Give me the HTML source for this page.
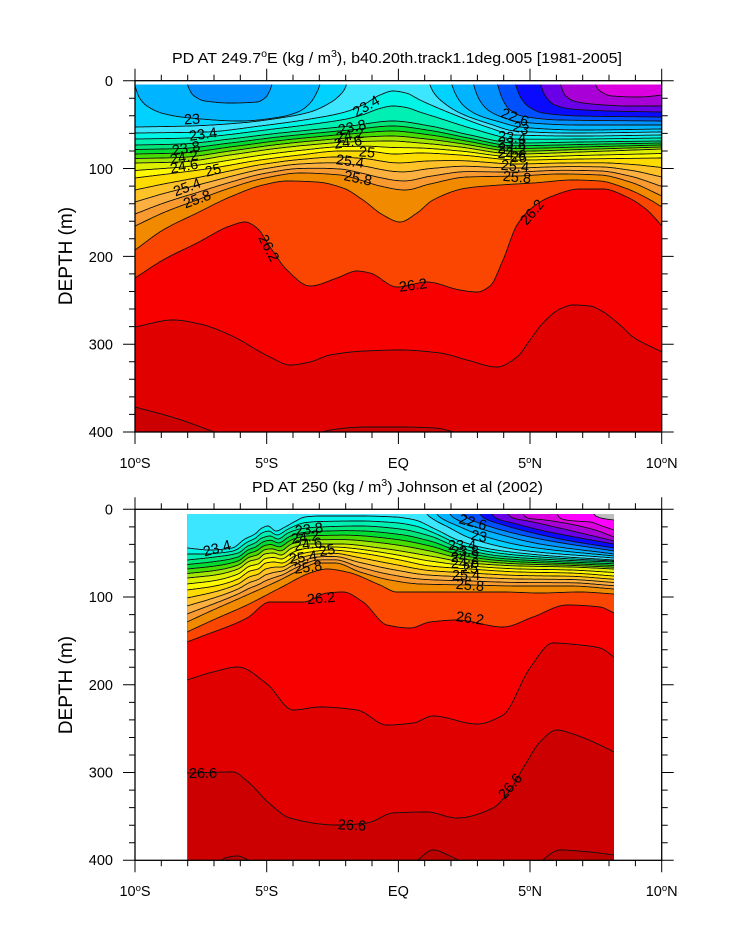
<!DOCTYPE html>
<html><head><meta charset="utf-8">
<style>
html,body{margin:0;padding:0;background:#fff;}
svg{display:block;}
text{font-family:"Liberation Sans",Arial,sans-serif;fill:#000;}
.cl{font-size:14.5px;text-anchor:middle;}
.tk{font-size:14.5px;}
</style></head>
<body>
<svg id="s" width="733" height="945" viewBox="0 0 733 945" xmlns="http://www.w3.org/2000/svg">
<defs>
<clipPath id="c1"><rect x="135" y="84.5" width="526.7" height="347.5"/></clipPath>
<clipPath id="c2"><rect x="187.3" y="514" width="426.7" height="346.3"/></clipPath>
</defs>
<g id="p1" clip-path="url(#c1)"></g>
<g id="p2" clip-path="url(#c2)"></g>

<!-- contour labels top -->
<g class="cl">
<text transform="translate(192,119) rotate(-3)" y="5">23</text>
<text transform="translate(203,134) rotate(-8)" y="5">23.4</text>
<text transform="translate(186,148) rotate(-10)" y="5">23.8</text>
<text transform="translate(184,157) rotate(-10)" y="5">24.2</text>
<text transform="translate(184,166) rotate(-10)" y="5">24.6</text>
<text transform="translate(213,170) rotate(-15)" y="5">25</text>
<text transform="translate(187,187) rotate(-20)" y="5">25.4</text>
<text transform="translate(197,199) rotate(-20)" y="5">25.8</text>
<text transform="translate(366,106) rotate(-30)" y="5">23.4</text>
<text transform="translate(352,127) rotate(-12)" y="5">23.8</text>
<text transform="translate(350,135) rotate(-10)" y="5">24.2</text>
<text transform="translate(348,142) rotate(-8)" y="5">24.6</text>
<text transform="translate(367,152) rotate(5)" y="5">25</text>
<text transform="translate(350,161) rotate(8)" y="5">25.4</text>
<text transform="translate(358,178) rotate(12)" y="5">25.8</text>
<text transform="translate(515,117) rotate(20)" y="5">22.6</text>
<text transform="translate(521,128) rotate(15)" y="5">23</text>
<text transform="translate(512,137) rotate(5)" y="5">23.4</text>
<text transform="translate(512,143) rotate(5)" y="5">23.8</text>
<text transform="translate(512,149) rotate(5)" y="5">24.2</text>
<text transform="translate(512,154) rotate(5)" y="5">24.6</text>
<text transform="translate(519,157) rotate(5)" y="5">25</text>
<text transform="translate(515,166) rotate(5)" y="5">25.4</text>
<text transform="translate(517,177) rotate(5)" y="5">25.8</text>
<text transform="translate(269,248) rotate(62)" y="5">26.2</text>
<text transform="translate(413,285) rotate(-8)" y="5">26.2</text>
<text transform="translate(532,212) rotate(-50)" y="5">26.2</text>
</g>
<!-- contour labels bottom -->
<g class="cl">
<text transform="translate(217,548) rotate(-15)" y="5">23.4</text>
<text transform="translate(309,529) rotate(-8)" y="5">23.8</text>
<text transform="translate(305,537) rotate(-8)" y="5">24.2</text>
<text transform="translate(308,544) rotate(-8)" y="5">24.6</text>
<text transform="translate(327,550) rotate(-10)" y="5">25</text>
<text transform="translate(303,557) rotate(-8)" y="5">25.4</text>
<text transform="translate(308,567) rotate(-8)" y="5">25.8</text>
<text transform="translate(321,598) rotate(-5)" y="5">26.2</text>
<text transform="translate(203,773)" y="5">26.6</text>
<text transform="translate(352,825) rotate(3)" y="5">26.6</text>
<text transform="translate(473,522) rotate(15)" y="5">22.6</text>
<text transform="translate(479,536) rotate(10)" y="5">23</text>
<text transform="translate(462,545)" y="5">23.4</text>
<text transform="translate(465,551)" y="5">23.8</text>
<text transform="translate(465,557)" y="5">24.2</text>
<text transform="translate(465,563)" y="5">24.6</text>
<text transform="translate(470,568)" y="5">25</text>
<text transform="translate(466,575)" y="5">25.4</text>
<text transform="translate(470,585) rotate(5)" y="5">25.8</text>
<text transform="translate(470,618) rotate(8)" y="5">26.2</text>
<text transform="translate(510,786) rotate(-50)" y="5">26.6</text>
</g>

<!-- frames & ticks -->
<rect x="135" y="80.7" width="526.7" height="351.3" fill="none" stroke="#000" stroke-width="1.3"/>
<rect x="135" y="509.3" width="526.7" height="351" fill="none" stroke="#000" stroke-width="1.3"/>
<path id="tk" d="" stroke="#000" stroke-width="1" fill="none"/>

<!-- titles -->
<text x="172" y="63" font-size="15" textLength="450" lengthAdjust="spacingAndGlyphs">PD AT 249.7<tspan dy="-6" font-size="10">o</tspan><tspan dy="6">E (kg / m</tspan><tspan dy="-6" font-size="10">3</tspan><tspan dy="6">), b40.20th.track1.1deg.005 [1981-2005]</tspan></text>
<text x="252" y="492" font-size="15" textLength="291" lengthAdjust="spacingAndGlyphs">PD AT 250 (kg / m<tspan dy="-6" font-size="10">3</tspan><tspan dy="6">) Johnson et al (2002)</tspan></text>

<!-- y axis titles -->
<text transform="translate(72,256) rotate(-90)" font-size="19" text-anchor="middle">DEPTH (m)</text>
<text transform="translate(72,685) rotate(-90)" font-size="19" text-anchor="middle">DEPTH (m)</text>

<!-- y tick labels -->
<g class="tk" text-anchor="end">
<text x="113" y="86">0</text>
<text x="113" y="174">100</text>
<text x="113" y="262">200</text>
<text x="113" y="349.5">300</text>
<text x="113" y="437">400</text>
<text x="113" y="514.5">0</text>
<text x="113" y="602">100</text>
<text x="113" y="690">200</text>
<text x="113" y="777.5">300</text>
<text x="113" y="865">400</text>
</g>
<!-- x tick labels -->
<g class="tk" text-anchor="middle">
<text x="135" y="468">10<tspan dy="-5" font-size="9.5">o</tspan><tspan dy="5">S</tspan></text>
<text x="266.7" y="468">5<tspan dy="-5" font-size="9.5">o</tspan><tspan dy="5">S</tspan></text>
<text x="398.4" y="468">EQ</text>
<text x="530" y="468">5<tspan dy="-5" font-size="9.5">o</tspan><tspan dy="5">N</tspan></text>
<text x="661.7" y="468">10<tspan dy="-5" font-size="9.5">o</tspan><tspan dy="5">N</tspan></text>
<text x="135" y="896">10<tspan dy="-5" font-size="9.5">o</tspan><tspan dy="5">S</tspan></text>
<text x="266.7" y="896">5<tspan dy="-5" font-size="9.5">o</tspan><tspan dy="5">S</tspan></text>
<text x="398.4" y="896">EQ</text>
<text x="530" y="896">5<tspan dy="-5" font-size="9.5">o</tspan><tspan dy="5">N</tspan></text>
<text x="661.7" y="896">10<tspan dy="-5" font-size="9.5">o</tspan><tspan dy="5">N</tspan></text>
</g>
</svg>
<script>
var NS="http://www.w3.org/2000/svg";
var COL=["#bebebe","#ff00ff","#dc00e0","#aa00d8","#6a00e8","#0a0aff","#0050ff","#0091ff","#00b4ff","#00d2ff","#3ce6ff","#00f5e6","#00f0b4","#00e678","#00dc32","#46dc00","#a0e600","#dcf000","#fffa00","#ffdc00","#ffc328","#fcb040","#f89a30","#f28a00","#fa4600","#f80000","#e00000","#cc0000","#bb0000"];
function mono(p){
  var n=p.length,xs=[],ys=[],d=[],m=[],i;
  for(i=0;i<n;i++){xs.push(p[i][0]);ys.push(p[i][1]);}
  for(i=0;i<n-1;i++)d.push((ys[i+1]-ys[i])/(xs[i+1]-xs[i]));
  m[0]=d[0];m[n-1]=d[n-2];
  for(i=1;i<n-1;i++){
    if(d[i-1]*d[i]<=0)m[i]=0;
    else{var h0=xs[i]-xs[i-1],h1=xs[i+1]-xs[i],w1=2*h1+h0,w2=h1+2*h0;m[i]=(w1+w2)/(w1/d[i-1]+w2/d[i]);}
  }
  return function(x){
    if(x<=xs[0])return ys[0];if(x>=xs[n-1])return ys[n-1];
    var j=0;while(x>xs[j+1])j++;
    var h=xs[j+1]-xs[j],t=(x-xs[j])/h,t2=t*t,t3=t2*t;
    return (2*t3-3*t2+1)*ys[j]+(t3-2*t2+t)*h*m[j]+(-2*t3+3*t2)*ys[j+1]+(t3-t2)*h*m[j+1];
  };
}
function panel(gid,x0,x1,yT,yB,K){
  var g=document.getElementById(gid),N=28,f=[],k,i,x;
  for(k=0;k<N;k++)if(K[k])f[k]=mono(K[k]);
  var xs=[];for(x=x0;x<x1;x+=1)xs.push(x);xs.push(x1);
  var Y=[];for(k=0;k<N;k++)Y.push([]);
  for(i=0;i<xs.length;i++){
    var v=[];
    for(k=0;k<N;k++)if(f[k])v[k]=f[k](xs[i]);
    for(k=0;k<N;k++)if(!f[k]){var a=k-1;while(a>=0&&!f[a])a--;var b=k+1;while(b<N&&!f[b])b++;v[k]=v[a]+(v[b]-v[a])*(k-a)/(b-a);}
    for(k=1;k<N;k++)if(v[k]<v[k-1])v[k]=v[k-1];
    for(k=0;k<N;k++)Y[k].push(Math.max(yT-20,Math.min(yB+20,v[k])));
  }
  var r=document.createElementNS(NS,"rect");
  r.setAttribute("x",x0-2);r.setAttribute("y",yT-2);r.setAttribute("width",x1-x0+4);r.setAttribute("height",yB-yT+4);r.setAttribute("fill",COL[N]);g.appendChild(r);
  var L=xs.length;
  for(k=N-1;k>=0;k--){
    var d="M"+(x0-2)+","+(yT-20)+"L"+(x0-2)+","+Y[k][0].toFixed(1);
    for(i=0;i<L;i++)d+="L"+xs[i].toFixed(1)+","+Y[k][i].toFixed(1);
    d+="L"+(x1+2)+","+Y[k][L-1].toFixed(1)+"L"+(x1+2)+","+(yT-20)+"Z";
    var p=document.createElementNS(NS,"path");p.setAttribute("d",d);p.setAttribute("fill",COL[k]);g.appendChild(p);
  }
  for(k=0;k<N;k++){
    var d2="M"+(x0-2)+","+Y[k][0].toFixed(1);
    for(i=0;i<L;i++)d2+="L"+xs[i].toFixed(1)+","+Y[k][i].toFixed(1);
    d2+="L"+(x1+2)+","+Y[k][L-1].toFixed(1);
    var q=document.createElementNS(NS,"path");q.setAttribute("d",d2);q.setAttribute("fill","none");q.setAttribute("stroke","#111");q.setAttribute("stroke-width","0.9");g.appendChild(q);
  }
}
var A=60;
var KT={
0:[[135,A],[662,A]],
1:[[135,A],[662,A]],
2:[[135,A],[588,A],[592,75],[595,84],[600,91],[612,96],[640,97],[662,95]],
3:[[135,A],[555,A],[558,75],[561,86],[565,95],[574,101],[592,104],[630,106],[662,106]],
4:[[135,A],[535,A],[538,75],[541,86],[546,97],[555,105],[572,109],[610,111],[662,112]],
5:[[135,A],[510,A],[513,75],[516,86],[521,98],[529,107],[543,113],[580,116],[662,117]],
6:[[135,A],[492,A],[495,75],[498,86],[502,98],[509,109],[522,116],[560,120],[662,121]],
7:[[135,A],[181,A],[185,75],[188,86],[193,95],[205,101],[230,103],[257,102],[266,97],[270,90],[272,84],[274,A],[468,A],[471,75],[474,86],[479,99],[488,110],[502,117],[520,122],[580,125],[662,125]],
8:[[135,86],[139,97],[147,106],[165,114],[190,118],[240,121],[280,117],[300,111],[311,102],[317,92],[320,84],[323,A],[446,A],[449,75],[452,85],[456,95],[464,106],[478,115],[500,122],[520,127],[580,130],[662,129]],
9:[[135,127],[190,126],[240,123],[280,118],[310,112],[328,104],[340,95],[346,86],[350,A],[424,A],[427,75],[430,85],[434,93],[444,103],[460,113],[490,124],[515,131],[570,133],[662,132]],
10:[[135,133],[205,132],[260,126],[310,119],[345,112],[363,105],[380,95],[393,91],[406,93],[420,100],[450,113],[490,128],[515,135],[580,136],[662,135]],
12:[[135,145],[181,144],[230,139],[280,133],[320,129],[350,126],[393,121],[430,126],[470,135],[515,143],[580,142],[662,141]],
16:[[135,163],[180,162],[230,155],[280,148],[320,144],[347,142],[390,141],[420,143],[460,147],[515,154],[580,152],[662,149]],
18:[[135,178],[213,168],[260,160],[300,155],[340,151],[365,151],[395,154],[420,153],[460,155],[520,160],[580,159],[662,158]],
22:[[135,226],[165,212],[197,200],[230,188],[265,178],[300,173],[340,175],[360,180],[380,186],[405,190],[430,184],[467,177],[517,176],[560,174],[600,175],[630,182],[662,196]],
23:[[135,250],[163,230],[197,213],[230,197],[263,185],[287,181],[317,182],[343,188],[363,200],[383,215],[400,222],[417,213],[433,200],[467,188],[500,185],[533,183],[573,180],[600,181],[625,188],[645,197],[662,207]],
24:[[135,278],[163,260],[197,243],[230,226],[245,222],[257,228],[270,247],[287,270],[310,286],[337,278],[357,271],[370,273],[397,287],[427,282],[460,290],[477,292],[490,286],[503,260],[517,225],[533,207],[550,197],[580,189],[603,189],[627,197],[647,210],[662,226]],
25:[[135,327],[173,320],[200,324],[230,335],[270,357],[290,365],[310,362],[330,355],[365,351],[400,350],[440,353],[467,360],[497,367],[517,357],[530,340],[543,323],[560,309],[573,305],[590,306],[600,310],[620,325],[633,337],[662,352]],
26:[[135,407],[175,418],[217,433],[250,445],[300,442],[330,430],[365,427],[400,427],[435,428],[460,434],[490,445],[662,445]],
27:[[135,460],[662,460]]
};
var B=495,Z=875;
var KB={
0:[[187,B],[590,B],[592,505],[594,514],[598,517],[606,519],[614,520]],
1:[[187,B],[553,B],[555,505],[557,514],[562,519],[575,521],[590,522],[602,526],[614,530]],
2:[[187,B],[519,B],[521,505],[523,514],[528,518],[545,520],[570,524],[595,530],[614,537]],
3:[[187,B],[504,B],[506,505],[508,514],[513,518],[528,521],[555,527],[585,534],[614,541]],
4:[[187,B],[488,B],[490,505],[492,514],[498,519],[513,523],[540,530],[575,537],[614,544]],
5:[[187,B],[476,B],[478,505],[480,514],[486,519],[500,524],[525,531],[565,540],[614,548]],
6:[[187,B],[459,B],[461,505],[463,514],[469,519],[482,524],[505,531],[545,540],[614,551]],
7:[[187,B],[446,B],[448,505],[450,514],[456,519],[470,525],[495,533],[540,544],[614,554]],
8:[[187,B],[433,B],[435,505],[437,514],[443,519],[458,526],[480,535],[530,547],[614,556]],
9:[[187,B],[421,B],[424,505],[427,514],[433,519],[448,527],[470,538],[520,550],[614,558]],
10:[[187,548],[210,550],[232,548],[245,539],[255,534],[262,528],[268,526],[276,531],[285,527],[294,522],[305,517],[320,516],[360,516],[395,517],[415,520],[435,529],[460,541],[490,549],[540,555],[614,560]],
12:[[187,560],[215,557],[238,553],[248,546],[255,543],[262,538],[270,536],[278,539],[288,533],[300,529],[320,527],[360,526],[400,529],[430,536],[460,548],[500,556],[560,560],[614,562]],
16:[[187,578],[215,575],[238,569],[250,561],[258,559],[265,554],[273,553],[281,555],[292,548],[308,544],[340,544],[380,548],[430,556],[470,563],[520,566],[570,567],[614,569]],
18:[[187,590],[215,586],[238,579],[250,571],[258,569],[266,563],[274,562],[282,563],[295,556],[310,552],[330,550],[360,553],[400,560],[430,566],[470,569],[520,572],[570,573],[614,576]],
22:[[187,622],[213,610],[247,595],[280,580],[300,570],[318,563],[335,563],[360,572],[390,580],[420,584],[470,585],[520,586],[570,586],[614,589]],
23:[[187,632],[213,620],[247,605],[280,588],[313,572],[327,569],[347,572],[380,585],[397,592],[430,592],[463,592],[503,592],[540,593],[580,592],[614,594]],
24:[[187,642],[200,637],[247,618],[270,602],[303,602],[327,593],[343,592],[363,602],[387,625],[410,628],[430,622],[457,620],[503,627],[533,617],[567,605],[600,607],[614,613]],
25:[[187,680],[213,672],[238,667],[267,684],[293,710],[320,707],[357,710],[387,725],[413,723],[433,716],[477,724],[503,715],[530,668],[553,643],[580,645],[600,648],[614,657]],
26:[[187,773],[233,772],[247,781],[270,804],[290,818],[337,825],[367,823],[393,813],[427,812],[457,818],[493,808],[510,790],[525,765],[540,742],[557,730],[573,734],[600,745],[614,752]],
27:[[187,Z],[212,870],[225,858],[237,856],[248,860],[258,Z],[405,Z],[418,860],[433,850],[450,856],[468,866],[480,Z],[525,Z],[540,862],[560,850],[590,852],[614,855]]
};
panel("p1",135,661.7,84.5,432,KT);
panel("p2",187.3,614,514,860.3,KB);
function ticks(yTop,yBot,sc){
  var d="",m,y,L,l,x;
  for(m=0;m<=400;m+=20){y=(yTop+m*sc).toFixed(1);L=(m%100==0)?12:6;d+="M"+(135-L)+","+y+"H135M661.7,"+y+"H"+(661.7+L);}
  for(l=-10;l<=10;l++){x=(135+(l+10)*26.335).toFixed(1);L=(l%5==0)?12:6;d+="M"+x+","+(yTop-L)+"V"+yTop+"M"+x+","+yBot+"V"+(yBot+L);}
  return d;
}
document.getElementById("tk").setAttribute("d",ticks(80.7,432,0.87825)+ticks(509.3,860.3,0.8775));
</script>
</body></html>
